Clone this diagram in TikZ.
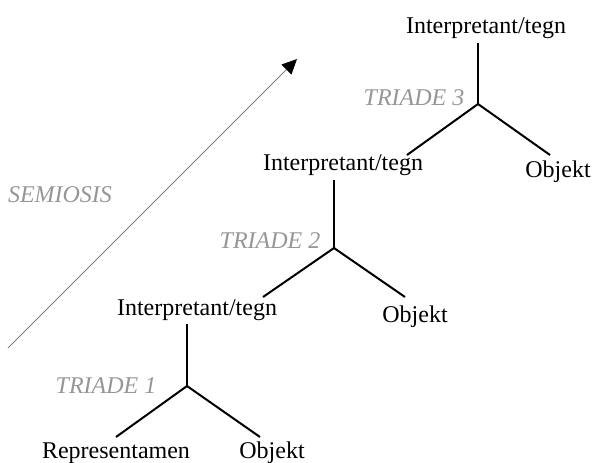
\documentclass[tikz,border=0pt]{standalone}
\usepackage{fontspec}
\setmainfont{Liberation Serif}
\usetikzlibrary{arrows.meta}
\definecolor{lbl}{RGB}{150,150,150}
\begin{document}
\begin{tikzpicture}[x=0.5pt,y=-0.5pt,
  term/.style={font=\fontsize{12}{14}\selectfont, inner sep=0pt, anchor=base},
  tlabel/.style={font=\fontsize{12}{14}\selectfont\itshape, text=lbl, inner sep=0pt, anchor=base},
  leg/.style={line width=1pt, black},
  semarrow/.style={line width=0.5pt, draw=gray, -{Triangle[length=7.5pt,width=7pt,black]}}]
\useasboundingbox (0,0) rectangle (593,462);
% Triad 1
\node[term] (rep1) at (116,458) {Representamen};
\node[term] (obj1) at (272,458) {Objekt};
\node[term] (int1) at (197,315) {Interpretant/tegn};
\node[tlabel] (tr1) at (106,393) {TRIADE 1};
\coordinate (c1) at (187,386);
\coordinate (t1) at (187,324);
\coordinate (l1) at (116,437);
\coordinate (r1) at (260,437);
\draw[leg] (c1) -- (t1);
\draw[leg] (c1) -- (l1);
\draw[leg] (c1) -- (r1);
% Triad 2
\node[term] (obj2) at (415,322) {Objekt};
\node[term] (int2) at (343,170) {Interpretant/tegn};
\node[tlabel] (tr2) at (270,248) {TRIADE 2};
\coordinate (c2) at (334,248);
\coordinate (t2) at (334,180);
\coordinate (l2) at (263,297);
\coordinate (r2) at (405,297);
\draw[leg] (c2) -- (t2);
\draw[leg] (c2) -- (l2);
\draw[leg] (c2) -- (r2);
% Triad 3
\node[term] (obj3) at (558,177) {Objekt};
\node[term] (int3) at (486,33) {Interpretant/tegn};
\node[tlabel] (tr3) at (414,105) {TRIADE 3};
\coordinate (c3) at (478,104);
\coordinate (t3) at (478,43);
\coordinate (l3) at (407,155);
\coordinate (r3) at (550,155);
\draw[leg] (c3) -- (t3);
\draw[leg] (c3) -- (l3);
\draw[leg] (c3) -- (r3);
% Semiosis arrow
\node[tlabel] (sem) at (60,202) {SEMIOSIS};
\coordinate (s0) at (8,348);
\coordinate (s1) at (297,59);
\draw[semarrow] (s0) -- (s1);
\end{tikzpicture}
\end{document}
